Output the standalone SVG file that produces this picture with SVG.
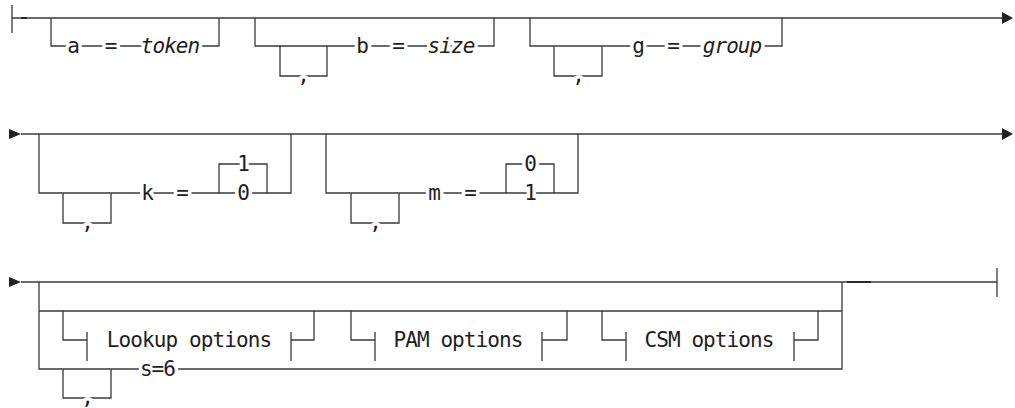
<svg xmlns="http://www.w3.org/2000/svg" width="1015" height="408" viewBox="0 0 1015 408">
<style>
.ln{fill:none;stroke:#3a3a3a;stroke-width:1.3}
.dk{fill:none;stroke:#1a1a1a;stroke-width:1.6}
.ar{fill:#222}
.t{font-family:"DejaVu Sans Mono","Liberation Mono",monospace;font-size:21px;letter-spacing:-0.9px;fill:#1e1e1e;text-anchor:middle;paint-order:stroke;stroke:#fff;stroke-width:7px;stroke-linejoin:round}
.i{font-style:italic}
.o{stroke:none}
</style>
<rect width="1015" height="408" fill="#fff"/>
<g id="connectors">
  <!-- row 1 -->
  <path class="ln" d="M12,5 V33 M12,18 H1002"/>
  <path class="dk" d="M21,18 H27"/>
  <polygon class="ar" points="1002,12 1013,18 1002,24"/>
  <!-- row 2 -->
  <polygon class="ar" points="9,129 21,134 9,139"/>
  <path class="ln" d="M21,134 H1002"/>
  <polygon class="ar" points="1002,128 1013,134 1002,140"/>
  <!-- row 3 -->
  <polygon class="ar" points="9,277 21,282 9,287"/>
  <path class="ln" d="M21,282 H997 M997,268 V297"/>
  <path class="dk" d="M847,282 H871"/>
</g>
<g id="node-a">
  <path class="ln" d="M51,18 V46 H219 V18"/>
  <text class="t" x="73" y="53">a</text>
  <text class="t" x="110.5" y="53">=</text>
  <text class="t i" x="170" y="53">token</text>
</g>
<g id="node-b">
  <path class="ln" d="M255,18 V46 H494 V18 M280,46 V76 H327 V46"/>
  <text class="t" x="303" y="82">,</text>
  <text class="t" x="362" y="53">b</text>
  <text class="t" x="398" y="53">=</text>
  <text class="t i" x="451" y="53">size</text>
</g>
<g id="node-g">
  <path class="ln" d="M530,18 V46 H782 V18 M554,46 V76 H602 V46"/>
  <text class="t" x="578" y="82">,</text>
  <text class="t" x="638" y="53">g</text>
  <text class="t" x="673" y="53">=</text>
  <text class="t i" x="732" y="53">group</text>
</g>
<g id="node-k">
  <path class="ln" d="M39,134 V193 H291 V134 M63,193 V223 H111 V193 M219,193 V164 H267 V193"/>
  <text class="t" x="87" y="229">,</text>
  <text class="t" x="147" y="200">k</text>
  <text class="t" x="182" y="200">=</text>
  <text class="t" x="243" y="171">1</text>
  <text class="t" x="243" y="200">0</text>
</g>
<g id="node-m">
  <path class="ln" d="M326,134 V193 H578 V134 M351,193 V223 H399 V193 M506,193 V164 H554 V193"/>
  <text class="t" x="375" y="229">,</text>
  <text class="t" x="434" y="200">m</text>
  <text class="t" x="470" y="200">=</text>
  <text class="t" x="530" y="171">0</text>
  <text class="t" x="530" y="200">1</text>
</g>
<g id="node-options">
  <path class="ln" d="M39,282 V369 H842 V282 M39,311 H842 M63,369 V398 H111 V369"/>
  <text class="t" x="87" y="404">,</text>
  <text class="t" x="157.5" y="376">s=6</text>
</g>
<g id="node-lookup">
  <path class="ln" d="M63,311 V340 H87 M87,332 V361 M291,332 V361 M291,340 H314 V311"/>
  <text class="t o" x="189" y="347">Lookup options</text>
</g>
<g id="node-pam">
  <path class="ln" d="M351,311 V340 H375 M375,332 V361 M542,332 V361 M542,340 H567 V311"/>
  <text class="t o" x="458" y="347">PAM options</text>
</g>
<g id="node-csm">
  <path class="ln" d="M602,311 V340 H626 M626,332 V361 M794,332 V361 M794,340 H818 V311"/>
  <text class="t o" x="709" y="347">CSM options</text>
</g>
</svg>
